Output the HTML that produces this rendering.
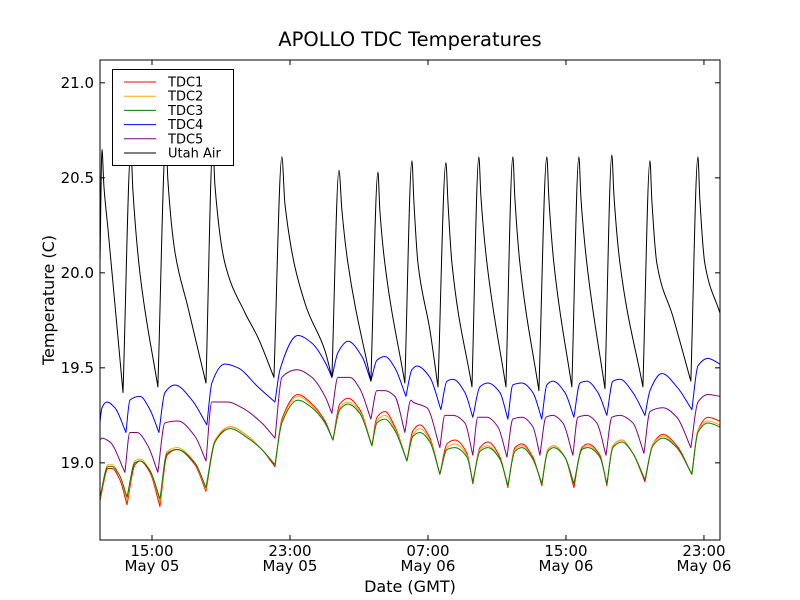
<!DOCTYPE html>
<html><head><meta charset="utf-8"><style>
body{margin:0;background:#fff}
svg{display:block;font-family:"DejaVu Sans","Liberation Sans",sans-serif}
</style></head><body>
<svg id="chart" width="800" height="600" viewBox="0 0 800 600">
<rect x="0" y="0" width="800" height="600" fill="#fff"/>
<text x="410" y="46" font-size="19.5" text-anchor="middle">APOLLO TDC Temperatures</text>
<text x="410" y="592" font-size="16" text-anchor="middle">Date (GMT)</text>
<text transform="translate(54,300) rotate(-90)" font-size="16" text-anchor="middle">Temperature (C)</text>
<defs><clipPath id="clip"><rect x="100" y="60" width="620" height="480"/></clipPath></defs>
<g id="series" clip-path="url(#clip)"></g>
<g id="axes"></g>
<rect x="100" y="60" width="620" height="480" fill="none" stroke="#000" stroke-width="1"/>
<g id="legend">
<rect x="112.5" y="69.5" width="121" height="96" fill="#fff" stroke="#000"/>
</g>
</svg>
<script>
const tdcTimes=[11.98,12.45,12.68,13.14,13.55,14.01,14.30,14.88,15.46,15.87,16.45,17.49,18.13,18.65,19.52,20.56,21.37,22.13,22.53,23.46,24.27,25.03,25.49,25.89,26.36,27.05,27.75,28.04,28.50,29.08,29.78,30.13,30.53,31.11,31.69,32.10,32.56,33.26,33.60,34.01,34.47,35.17,35.63,36.04,36.45,37.08,37.60,37.95,38.30,38.94,39.46,39.92,40.27,40.97,41.37,41.72,42.24,42.88,43.58,44.04,44.62,45.43,46.30,46.65,47.23,47.92];
const tdc1Values=[18.80,18.97,18.97,18.91,18.78,18.99,19.01,18.95,18.77,19.04,19.07,18.99,18.85,19.11,19.19,19.14,19.07,18.98,19.23,19.36,19.31,19.22,19.12,19.31,19.34,19.28,19.09,19.24,19.27,19.19,19.01,19.17,19.20,19.13,18.94,19.10,19.12,19.05,18.89,19.08,19.11,19.03,18.87,19.08,19.10,19.03,18.88,19.07,19.09,19.03,18.87,19.08,19.10,19.04,18.88,19.09,19.12,19.05,18.90,19.10,19.15,19.09,18.94,19.17,19.24,19.22];
const tdc2Values=[18.81,18.99,18.99,18.93,18.80,19.01,19.02,18.96,18.79,19.06,19.08,19.00,18.86,19.12,19.19,19.14,19.07,18.99,19.22,19.35,19.30,19.21,19.12,19.29,19.32,19.27,19.09,19.22,19.25,19.18,19.01,19.15,19.18,19.12,18.94,19.08,19.10,19.04,18.90,19.07,19.09,19.02,18.88,19.07,19.09,19.02,18.89,19.07,19.09,19.03,18.89,19.07,19.09,19.03,18.89,19.09,19.12,19.05,18.91,19.10,19.14,19.08,18.94,19.17,19.22,19.20];
const tdc3Values=[18.82,18.98,18.98,18.93,18.82,19.00,19.01,18.96,18.81,19.05,19.07,19.00,18.87,19.11,19.18,19.13,19.07,18.99,19.21,19.33,19.29,19.21,19.12,19.28,19.31,19.26,19.09,19.21,19.23,19.17,19.01,19.14,19.16,19.11,18.94,19.07,19.08,19.03,18.90,19.06,19.08,19.02,18.88,19.06,19.08,19.02,18.89,19.06,19.08,19.03,18.89,19.07,19.08,19.03,18.89,19.08,19.11,19.05,18.91,19.09,19.13,19.08,18.94,19.16,19.21,19.19];
const tdc4Times=[11.98,12.10,12.39,12.85,13.49,13.72,14.30,14.88,15.40,15.75,16.33,17.32,18.18,18.47,19.23,19.98,21.14,22.13,22.42,23.46,24.27,25.03,25.43,25.78,26.36,27.17,27.69,28.04,28.50,29.08,29.72,30.07,30.36,31.11,31.75,32.10,32.45,33.14,33.60,34.01,34.47,35.17,35.63,35.92,36.45,37.08,37.60,37.89,38.24,38.94,39.46,39.81,40.21,40.85,41.37,41.72,42.13,42.88,43.58,43.87,44.56,45.43,46.30,46.65,47.23,47.92];
const tdc4Values=[19.21,19.29,19.32,19.29,19.16,19.33,19.35,19.28,19.16,19.37,19.41,19.33,19.20,19.42,19.52,19.50,19.40,19.32,19.49,19.67,19.63,19.53,19.45,19.58,19.64,19.56,19.43,19.54,19.56,19.50,19.35,19.49,19.51,19.45,19.28,19.43,19.44,19.37,19.24,19.40,19.42,19.37,19.23,19.41,19.42,19.37,19.23,19.41,19.43,19.37,19.24,19.42,19.43,19.37,19.25,19.43,19.44,19.37,19.25,19.38,19.47,19.40,19.28,19.51,19.55,19.52];
const tdc5Times=[11.98,12.10,12.56,13.43,13.72,14.13,14.76,15.34,15.75,16.50,17.49,18.13,18.47,19.40,20.21,21.37,22.13,22.53,23.40,24.27,25.03,25.43,25.78,26.47,27.05,27.69,28.04,28.50,29.08,29.66,30.01,30.13,30.94,31.69,31.98,32.45,33.14,33.60,33.89,34.42,35.05,35.58,35.92,36.45,37.08,37.49,37.84,38.24,38.82,39.40,39.69,40.21,40.79,41.32,41.66,42.13,42.88,43.52,43.87,44.62,45.43,46.24,46.65,47.23,47.92];
const tdc5Values=[19.12,19.13,19.11,18.95,19.16,19.16,19.09,18.95,19.21,19.22,19.14,19.01,19.32,19.32,19.29,19.21,19.13,19.45,19.49,19.45,19.35,19.26,19.45,19.45,19.39,19.23,19.38,19.38,19.35,19.16,19.33,19.32,19.29,19.08,19.25,19.25,19.21,19.04,19.24,19.24,19.19,19.03,19.23,19.24,19.19,19.04,19.24,19.25,19.21,19.04,19.24,19.25,19.21,19.04,19.24,19.25,19.21,19.05,19.27,19.29,19.24,19.08,19.32,19.36,19.35];
const airTimes=[11.98,12.10,12.21,12.45,13.32,13.78,13.89,14.30,15.34,15.81,15.92,16.33,17.08,18.13,18.53,18.65,19.23,20.39,21.14,22.07,22.53,22.71,23.87,25.03,25.43,25.84,26.01,26.36,27.69,28.10,28.21,28.50,29.66,30.07,30.18,30.42,31.11,31.58,32.04,32.16,32.39,33.55,33.95,34.07,34.42,35.52,35.92,36.04,36.33,37.43,37.89,38.01,38.30,39.34,39.75,39.87,40.21,41.26,41.66,41.78,42.13,43.46,43.87,43.98,44.27,45.20,46.24,46.65,46.76,47.05,47.92];
const airValues=[20.02,20.65,20.46,20.23,19.37,20.65,20.44,20.00,19.40,20.70,20.49,20.11,19.82,19.42,20.67,20.46,20.05,19.79,19.66,19.45,20.61,20.36,19.84,19.59,19.45,20.54,20.33,20.05,19.43,20.53,20.33,20.05,19.42,20.59,20.38,20.05,19.70,19.40,20.58,20.37,20.05,19.40,20.61,20.40,20.05,19.40,20.61,20.39,20.05,19.38,20.61,20.39,20.05,19.40,20.61,20.39,20.05,19.39,20.62,20.41,20.05,19.40,20.59,20.38,20.05,19.77,19.43,20.61,20.39,20.05,19.79];
const yTicks=[19.0,19.5,20.0,20.5,21.0];
const yTickLabels=["19.0","19.5","20.0","20.5","21.0"];
const xTicks=[15,23,31,39,47];
const xTickTimes=["15:00","23:00","07:00","15:00","23:00"];
const xTickDates=["May 05","May 05","May 06","May 06","May 06"];
const seriesNames=["TDC1","TDC2","TDC3","TDC4","TDC5","Utah Air"];
const seriesColors=["#ff0000","#ffa500","#008000","#0000ff","#800080","#000000"];

const NS="http://www.w3.org/2000/svg";
const X0=100,X1=720,Y0=60,Y1=540;
const T0=11.986,T1=47.93,V0=18.594,V1=21.12;
function xs(t){return X0+(t-T0)/(T1-T0)*(X1-X0);}
function ys(v){return Y1-(v-V0)/(V1-V0)*(Y1-Y0);}
function mk(tag,attrs,parent){const e=document.createElementNS(NS,tag);for(const k in attrs)e.setAttribute(k,attrs[k]);parent.appendChild(e);return e;}
// Monotone cubic, but sharp cusps at troughs (screen-space maxima of y)
function monoPath(px,py){
  const n=px.length;if(n<2)return '';
  const d=[];
  for(let i=0;i<n-1;i++)d.push((py[i+1]-py[i])/(px[i+1]-px[i]||1e-6));
  const mIn=new Array(n).fill(0),mOut=new Array(n).fill(0);
  mIn[0]=mOut[0]=d[0];mIn[n-1]=mOut[n-1]=d[n-2];
  for(let i=1;i<n-1;i++){
    if(d[i-1]*d[i]<=0){
      if(d[i-1]>0&&d[i]<0){mIn[i]=d[i-1];mOut[i]=d[i];} // trough in value space -> cusp
      else{mIn[i]=0;mOut[i]=0;}
    }else{
      const w1=2*(px[i+1]-px[i])+(px[i]-px[i-1]),w2=(px[i+1]-px[i])+2*(px[i]-px[i-1]);
      mIn[i]=mOut[i]=(w1+w2)/(w1/d[i-1]+w2/d[i]);
    }
  }
  let p='M'+px[0].toFixed(2)+','+py[0].toFixed(2);
  for(let i=0;i<n-1;i++){
    const h=(px[i+1]-px[i])/3;
    let a=mOut[i],b=mIn[i+1];
    // limit tangents to avoid overshoot
    const lim=3*Math.abs(d[i]);
    if(Math.abs(a)>lim)a=Math.sign(a)*lim;
    if(Math.abs(b)>lim)b=Math.sign(b)*lim;
    p+='C'+(px[i]+h).toFixed(2)+','+(py[i]+a*h).toFixed(2)+' '+(px[i+1]-h).toFixed(2)+','+(py[i+1]-b*h).toFixed(2)+' '+px[i+1].toFixed(2)+','+py[i+1].toFixed(2);
  }
  return p;
}

const sg=document.getElementById('series');
const data=[[tdcTimes,tdc1Values],[tdcTimes,tdc2Values],[tdcTimes,tdc3Values],[tdc4Times,tdc4Values],[tdc5Times,tdc5Values],[airTimes,airValues]];
data.forEach((d,i)=>{
  const n=Math.min(d[0].length,d[1].length);
  const px=[],py=[];
  for(let j=0;j<n;j++){px.push(xs(d[0][j]));py.push(ys(d[1][j]));}
  const el=mk('path',{d:monoPath(px,py),fill:'none',stroke:seriesColors[i],'stroke-width':1,'stroke-linejoin':'round'},sg);
  
  
});

const ax=document.getElementById('axes');
yTicks.forEach((v,i)=>{
  const y=ys(v);
  const t1=mk('line',{x1:X0,x2:X0+5,y1:y,y2:y,stroke:'#000'},ax);
  
  
  const t2=mk('line',{x1:X1-5,x2:X1,y1:y,y2:y,stroke:'#000'},ax);
  
  
  const tx=mk('text',{x:X0-6,y:y+5,'font-size':15,'text-anchor':'end'},ax);
  tx.textContent=yTickLabels[i];
  
  
});
xTicks.forEach((t,i)=>{
  const x=xs(t);
  const a=mk('line',{x1:x,x2:x,y1:Y1,y2:Y1-5,stroke:'#000'},ax);
  
  
  const b=mk('line',{x1:x,x2:x,y1:Y0,y2:Y0+5,stroke:'#000'},ax);
  
  
  const l1=mk('text',{x:x,y:556,'font-size':15,'text-anchor':'middle'},ax);
  l1.textContent=xTickTimes[i];
  
  
  const l2=mk('text',{x:x,y:571,'font-size':15,'text-anchor':'middle'},ax);
  l2.textContent=xTickDates[i];
  
  
});

const lg=document.getElementById('legend');
seriesNames.forEach((nm,i)=>{
  const y=82+i*14.2;
  const g=mk('g',{},lg);
  
  
  mk('line',{x1:124,x2:156,y1:y,y2:y,stroke:seriesColors[i],'stroke-width':1},g);
  const t=mk('text',{x:168,y:y+4.5,'font-size':13},g);
  t.textContent=nm;
});
</script>
</body></html>
